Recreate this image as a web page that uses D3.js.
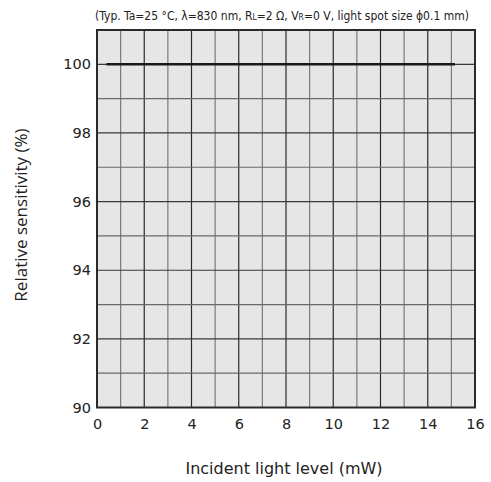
<!DOCTYPE html>
<html>
<head>
<meta charset="utf-8">
<script src="https://cdn.jsdelivr.net/npm/d3@7"></script>
<style>
  html, body { margin: 0; padding: 0; background: #ffffff; }
  svg { display: block; }
</style>
</head>
<body>
<svg id="chart" width="491" height="482"></svg>
<script>
// Relative sensitivity vs. incident light level
const xTicks = [0, 2, 4, 6, 8, 10, 12, 14, 16];
const yTicks = [90, 92, 94, 96, 98, 100];
const xGrid = d3.range(0, 17, 1);
const yGrid = d3.range(90, 102, 1);
const lightLevel = [0.4, 2, 4, 6, 8, 10, 12, 14, 15.15];
const sensitivity = [100, 100, 100, 100, 100, 100, 100, 100, 100];

const svg = d3.select("#chart");
const plotL = 97, plotR = 475, plotT = 30, plotB = 407.5;

const x = d3.scaleLinear().domain([0, 16]).range([plotL, plotR]);
const y = d3.scaleLinear().domain([90, 101]).range([plotB, plotT]);

// plot background
svg.append("rect")
  .attr("x", plotL).attr("y", plotT)
  .attr("width", plotR - plotL).attr("height", plotB - plotT)
  .attr("fill", "#e6e6e6");

// grid: darker lines at even values, lighter at odd
svg.append("g").selectAll("line").data(xGrid.filter(d => d > 0 && d < 16)).join("line")
  .attr("x1", d => x(d)).attr("x2", d => x(d))
  .attr("y1", plotT).attr("y2", plotB)
  .attr("stroke", d => d % 2 === 0 ? "#2a2a2a" : "#7a7a7a")
  .attr("stroke-width", 1.2);

svg.append("g").selectAll("line").data(yGrid.filter(d => d > 90 && d < 101)).join("line")
  .attr("x1", plotL).attr("x2", plotR)
  .attr("y1", d => y(d)).attr("y2", d => y(d))
  .attr("stroke", d => d % 2 === 0 ? "#3a3a3a" : "#6a6a6a")
  .attr("stroke-width", 1.2);

// data line
const line = d3.line().x((d, i) => x(lightLevel[i])).y(d => y(d));
svg.append("path")
  .datum(sensitivity)
  .attr("d", line)
  .attr("fill", "none")
  .attr("stroke", "#1a1a1a")
  .attr("stroke-width", 2.6);

// frame
svg.append("rect")
  .attr("x", plotL).attr("y", plotT)
  .attr("width", plotR - plotL).attr("height", plotB - plotT)
  .attr("fill", "none")
  .attr("stroke", "#2a2a2a")
  .attr("stroke-width", 2);

// axes (labels only)
const xAxis = d3.axisBottom(x).tickValues(xTicks).tickSize(0).tickPadding(11);
const gx = svg.append("g").attr("transform", `translate(0,${plotB})`).call(xAxis);
gx.select(".domain").remove();
gx.selectAll("text").attr("font-family", "DejaVu Sans").attr("font-size", 14.5).attr("fill", "#222");

const yAxis = d3.axisLeft(y).tickValues(yTicks).tickSize(0).tickPadding(6);
const gy = svg.append("g").attr("transform", `translate(${plotL},0)`).call(yAxis);
gy.select(".domain").remove();
gy.selectAll("text").attr("font-family", "DejaVu Sans").attr("font-size", 14.5).attr("fill", "#222");

// conditions note
const note = svg.append("text")
  .attr("x", (plotL + plotR) / 2 - 4).attr("y", 20)
  .attr("text-anchor", "middle")
  .attr("font-family", "DejaVu Sans Condensed, DejaVu Sans")
  .attr("font-size", 12)
  .attr("fill", "#222");
note.append("tspan").text("(Typ. Ta=25 °C, λ=830 nm, R");
note.append("tspan").attr("font-size", 8.5).text("L");
note.append("tspan").text("=2 Ω, V");
note.append("tspan").attr("font-size", 8.5).text("R");
note.append("tspan").text("=0 V, light spot size ϕ0.1 mm)");

// axis titles
svg.append("text")
  .attr("x", 284).attr("y", 474)
  .attr("text-anchor", "middle")
  .attr("font-family", "DejaVu Sans")
  .attr("font-size", 16)
  .attr("fill", "#222")
  .text("Incident light level (mW)");

svg.append("text")
  .attr("transform", "translate(27,215) rotate(-90)")
  .attr("text-anchor", "middle")
  .attr("font-family", "Open Sans")
  .attr("font-size", 17)
  .attr("fill", "#222")
  .text("Relative sensitivity (%)");
</script>
</body>
</html>
